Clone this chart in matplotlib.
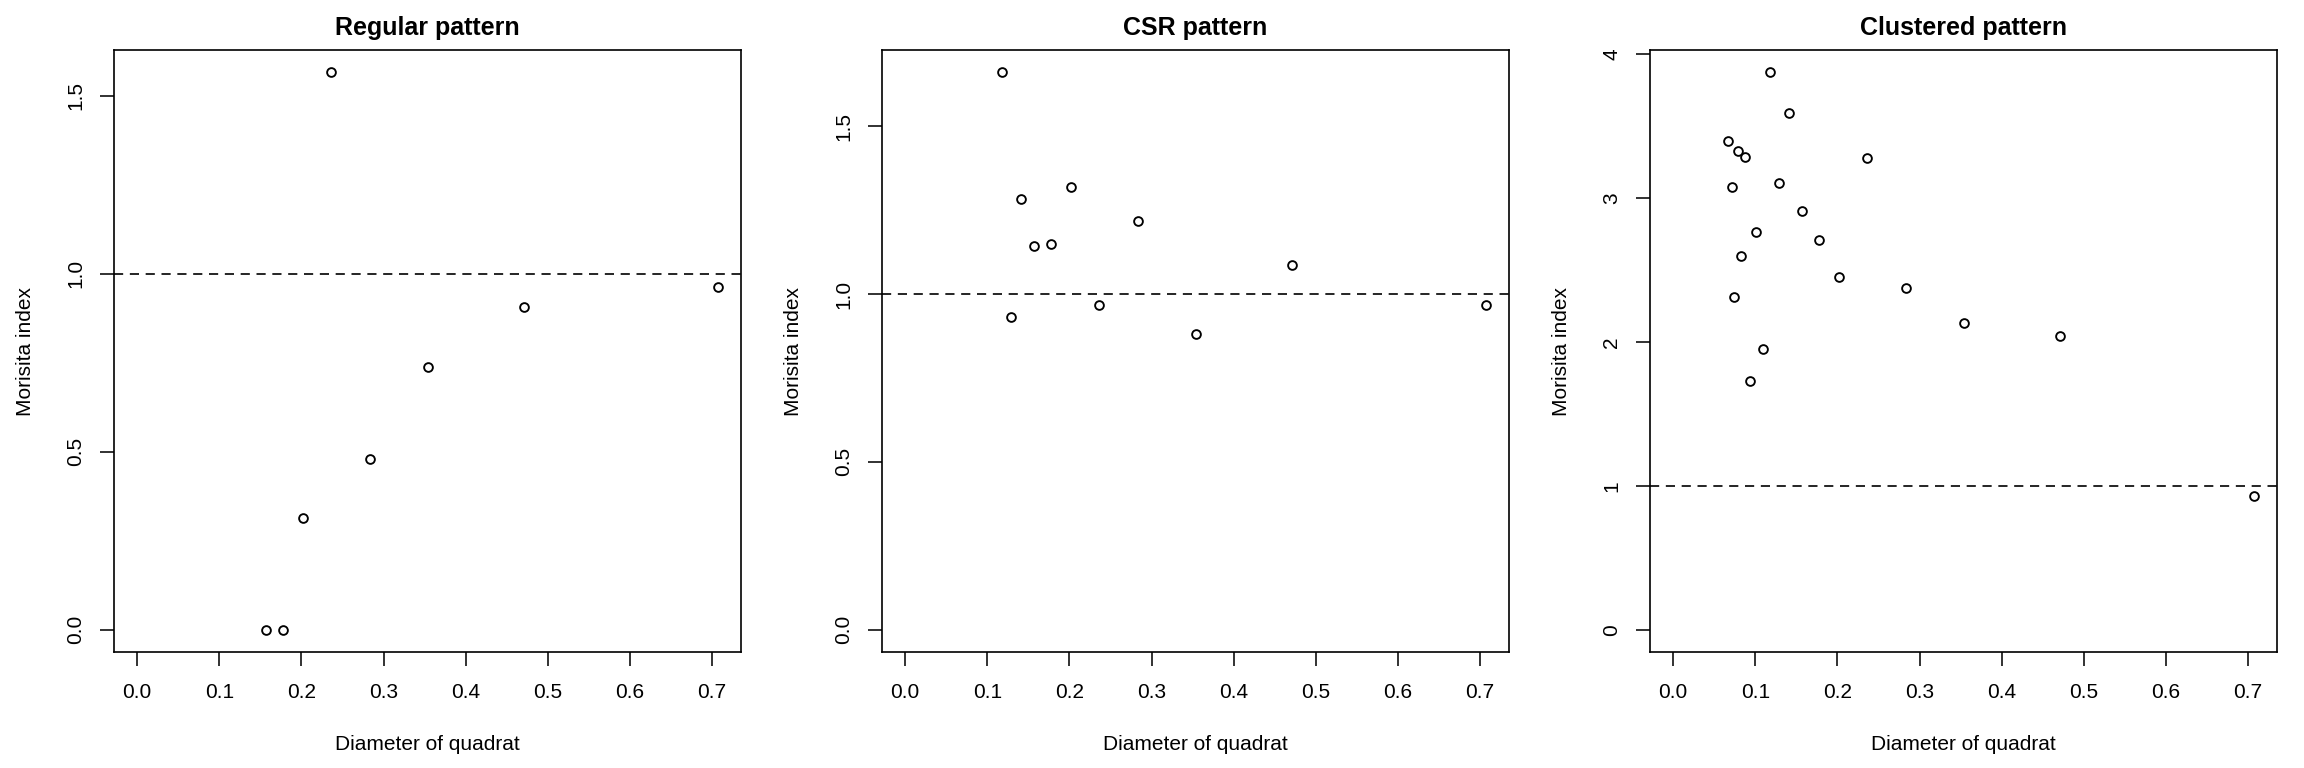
import matplotlib
matplotlib.use("Agg")
import matplotlib.pyplot as plt

plt.rcParams['font.family'] = ['Liberation Sans', 'DejaVu Sans']
plt.rcParams['lines.scale_dashes'] = False

# quadrat diameters and Morisita index values for each pattern
reg_x = [0.157, 0.177, 0.202, 0.236, 0.283, 0.354, 0.471, 0.707]
reg_y = [0.0, 0.0, 0.313, 1.566, 0.480, 0.738, 0.908, 0.962]

csr_x = [0.118, 0.129, 0.141, 0.157, 0.177, 0.202, 0.236, 0.283, 0.354, 0.471, 0.707]
csr_y = [1.661, 0.931, 1.283, 1.144, 1.148, 1.318, 0.969, 1.217, 0.880, 1.087, 0.969]

clu_x = [0.067, 0.071, 0.074, 0.079, 0.083, 0.088, 0.094, 0.101, 0.109, 0.118,
         0.129, 0.141, 0.157, 0.177, 0.202, 0.236, 0.283, 0.354, 0.471, 0.707]
clu_y = [3.394, 3.074, 2.311, 3.326, 2.597, 3.285, 1.726, 2.764, 1.951, 3.874,
         3.105, 3.588, 2.907, 2.706, 2.450, 3.278, 2.376, 2.131, 2.043, 0.929]

titles = ['Regular pattern', 'CSR pattern', 'Clustered pattern']
xticks = [0.0, 0.1, 0.2, 0.3, 0.4, 0.5, 0.6, 0.7]
xtick_labels = ['0.0', '0.1', '0.2', '0.3', '0.4', '0.5', '0.6', '0.7']
yticks = [[0.0, 0.5, 1.0, 1.5], [0.0, 0.5, 1.0, 1.5], [0, 1, 2, 3, 4]]
ytick_labels = [['0.0', '0.5', '1.0', '1.5'], ['0.0', '0.5', '1.0', '1.5'],
                ['0', '1', '2', '3', '4']]
data = [(reg_x, reg_y), (csr_x, csr_y), (clu_x, clu_y)]

W, H = 2304, 768
fig = plt.figure(figsize=(W / 150, H / 150), dpi=150)

for i, (xs, ys) in enumerate(data):
    left = 114 + 768 * i
    ax = fig.add_axes([left / W, (H - 652) / H, 627 / W, 602 / H])
    ax.plot(xs, ys, 'o', mfc='none', mec='black', ms=4.2, mew=0.9, clip_on=False)
    ax.axhline(1, color='black', lw=0.8, linestyle=(0, (4.4, 3.2)))

    # R style 4% padding around data range
    xmax = max(xs)
    ymax = max(ys)
    ax.set_xlim(-0.04 * xmax, 1.04 * xmax)
    ax.set_ylim(-0.04 * ymax, 1.04 * ymax)

    ax.set_xticks(xticks)
    ax.set_xticklabels(xtick_labels)
    ax.set_yticks(yticks[i])
    ax.set_yticklabels(ytick_labels[i], rotation=90, va='center')
    ax.tick_params(length=6.7, width=0.75, labelsize=10, color='black')
    ax.tick_params(axis='x', pad=8)
    ax.tick_params(axis='y', pad=7)
    for s in ax.spines.values():
        s.set_linewidth(0.8)

    ax.set_title(titles[i], fontsize=12, fontweight='bold', pad=7.2)
    ax.set_xlabel('Diameter of quadrat', fontsize=10, labelpad=16)
    ax.set_ylabel('Morisita index', fontsize=10, labelpad=15)

fig.savefig('out.png', dpi=150)
